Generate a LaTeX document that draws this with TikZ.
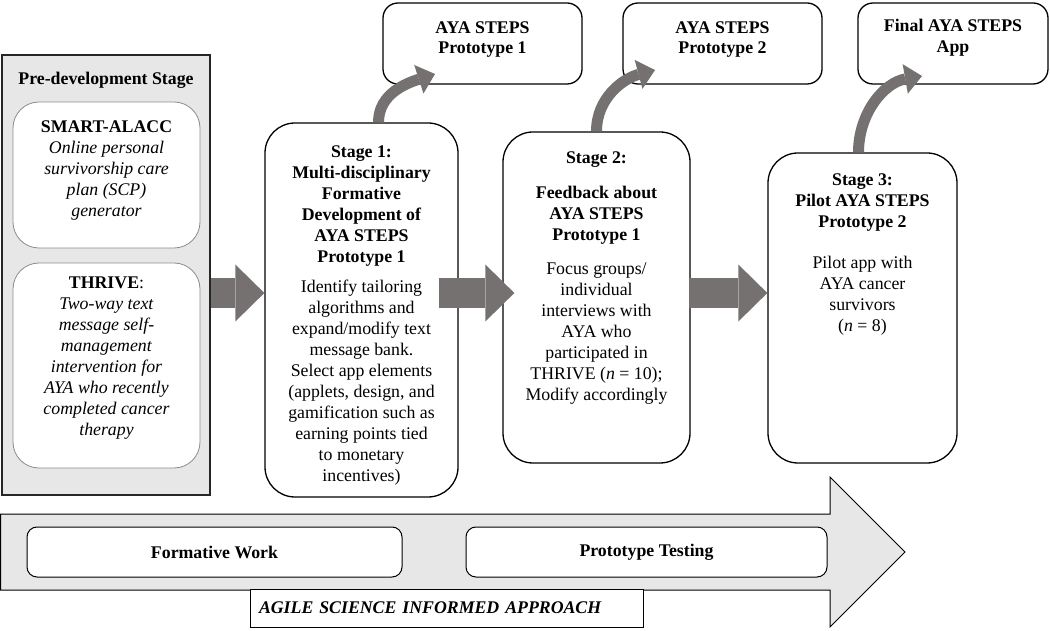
\documentclass[tikz,border=0pt]{standalone}
\usepackage{fontspec}
\setmainfont{Liberation Serif}
\usepackage{xcolor}
\usetikzlibrary{arrows.meta}

\definecolor{arrowgray}{RGB}{118,113,113}
\definecolor{panelgray}{RGB}{231,231,231}
\definecolor{softline}{RGB}{140,140,140}

\tikzset{
  stagebox/.style={draw=black, line width=1.3pt, fill=white, rounded corners=30pt, inner sep=0pt},
  protobox/.style={draw=black, line width=1.3pt, fill=white, rounded corners=15pt, inner sep=0pt},
  introbox/.style={draw=softline, line width=0.8pt, fill=white, rounded corners=26pt, inner sep=0pt},
  phasebox/.style={draw=black, line width=1pt, fill=white, rounded corners=10pt, inner sep=0pt},
  txt/.style={align=center, inner sep=0pt, anchor=north},
  flowarrow/.style={arrowgray, line width=30pt, -{Triangle[width=57pt,length=29pt,line width=0pt]}},
  bendarrow/.style={arrowgray, line width=11pt, -{Triangle[width=30pt,length=17pt,line width=0pt]}}
}

\begin{document}
\begin{tikzpicture}[x=1pt,y=1pt,font=\fontsize{17.8}{21}\selectfont]
  \useasboundingbox (0,0) rectangle (1050,630);

  % pre-development panel
  \node[draw=black!85, line width=1.5pt, fill=panelgray, minimum width=208pt, minimum height=440pt, inner sep=0pt] (pre) at (106,355) {};
  \node[txt] (pretitle) at (106,558.5) {\textbf{Pre-development Stage}};
  \node[introbox, minimum width=187pt, minimum height=146pt] (smart) at (106.5,455) {};
  \node[txt] (smarttxt) at (106.5,509.5) {\textbf{SMART-ALACC}\\ \textit{Online personal}\\ \textit{survivorship care}\\ \textit{plan (SCP)}\\ \textit{generator}};
  \node[introbox, minimum width=187pt, minimum height=205pt] (thrive) at (106.5,264.5) {};
  \node[txt] (thrivetxt) at (106.5,353.5) {\textbf{THRIVE}:\\ \textit{Two-way text}\\ \textit{message self-}\\ \textit{management}\\ \textit{intervention for}\\ \textit{AYA who recently}\\ \textit{completed cancer}\\ \textit{therapy}};

  % stages
  \node[stagebox, minimum width=193pt, minimum height=374pt] (s1) at (361.5,320) {};
  \node[txt] (s1txt) at (361.5,484.5) {\textbf{Stage 1:}\\ \textbf{Multi-disciplinary}\\ \textbf{Formative}\\ \textbf{Development of}\\ \textbf{AYA STEPS}\\ \textbf{Prototype 1}\\[9pt]
    Identify tailoring\\ algorithms and\\ expand/modify text\\ message bank.\\ Select app elements\\ (applets, design, and\\ gamification such as\\ earning points tied\\ to monetary\\ incentives)};
  \node[stagebox, minimum width=187pt, minimum height=331pt] (s2) at (596.5,332.5) {};
  \node[txt] (s2txt) at (596.5,478.5) {\textbf{Stage 2:}\\[14pt] \textbf{Feedback about}\\ \textbf{AYA STEPS}\\ \textbf{Prototype 1}\\[13pt]
    Focus groups/\\ individual\\ interviews with\\ AYA who\\ participated in\\ THRIVE (\textit{n} = 10);\\ Modify accordingly};
  \node[stagebox, minimum width=189pt, minimum height=310pt] (s3) at (862.5,322) {};
  \node[txt] (s3txt) at (862.5,456.5) {\textbf{Stage 3:}\\ \textbf{Pilot AYA STEPS}\\ \textbf{Prototype 2}\\[20pt]
    Pilot app with\\ AYA cancer\\ survivors\\ (\textit{n} = 8)};

  % prototypes
  \node[protobox, minimum width=199pt, minimum height=81pt] (p1) at (482.5,586.5) {};
  \node[txt] (p1txt) at (482.5,608.5) {\textbf{AYA STEPS}\\[-1pt] \textbf{Prototype 1}};
  \node[protobox, minimum width=199pt, minimum height=81pt] (p2) at (722.5,586.5) {};
  \node[txt] (p2txt) at (722.5,608.5) {\textbf{AYA STEPS}\\[-1pt] \textbf{Prototype 2}};
  \node[protobox, minimum width=190pt, minimum height=81pt] (p3) at (953,586.5) {};
  \node[txt] (p3txt) at (953,611.5) {\textbf{Final AYA STEPS}\\ \textbf{App}};

  % arrows between stages
  \coordinate (mid) at (0,337);
  \draw[flowarrow] (pre.east |- mid) -- (s1.west |- mid);
  \draw[flowarrow, shorten <=-20pt, shorten >=-12pt] (s1.east |- mid) -- (s2.west |- mid);
  \draw[flowarrow, shorten <=-2pt] (s2.east |- mid) -- (s3.west |- mid);

  \coordinate (tip1) at (435,556);
  \coordinate (tip2) at (655,560);
  \coordinate (tip3) at (922,554);
  \draw[bendarrow] ([xshift=17pt]s1.north) to[out=90,in=198] (tip1);
  \draw[bendarrow] (s2.north) to[out=90,in=195] (tip2);
  \draw[bendarrow] ([xshift=-4pt]s3.north) to[out=90,in=190] (tip3);

  % agile science arrow
  \draw[line width=1pt, fill=panelgray] (0.5,116) -- (830,116) -- (830,153) -- (905,78) -- (830,3) -- (830,40) -- (0.5,40) -- cycle;
  \node[phasebox, minimum width=375pt, minimum height=50pt] (formative) at (214.5,78) {\textbf{Formative Work}};
  \node[phasebox, minimum width=361pt, minimum height=50pt] (testing) at (646.5,78) {\textbf{Prototype Testing}};
  \node[draw=black, line width=0.8pt, fill=white, minimum height=38pt, text width=375pt, inner sep=9pt, align=left] (agile) at (446.5,22) {\textbf{\textit{AGILE SCIENCE INFORMED APPROACH}}};
\end{tikzpicture}
\end{document}
